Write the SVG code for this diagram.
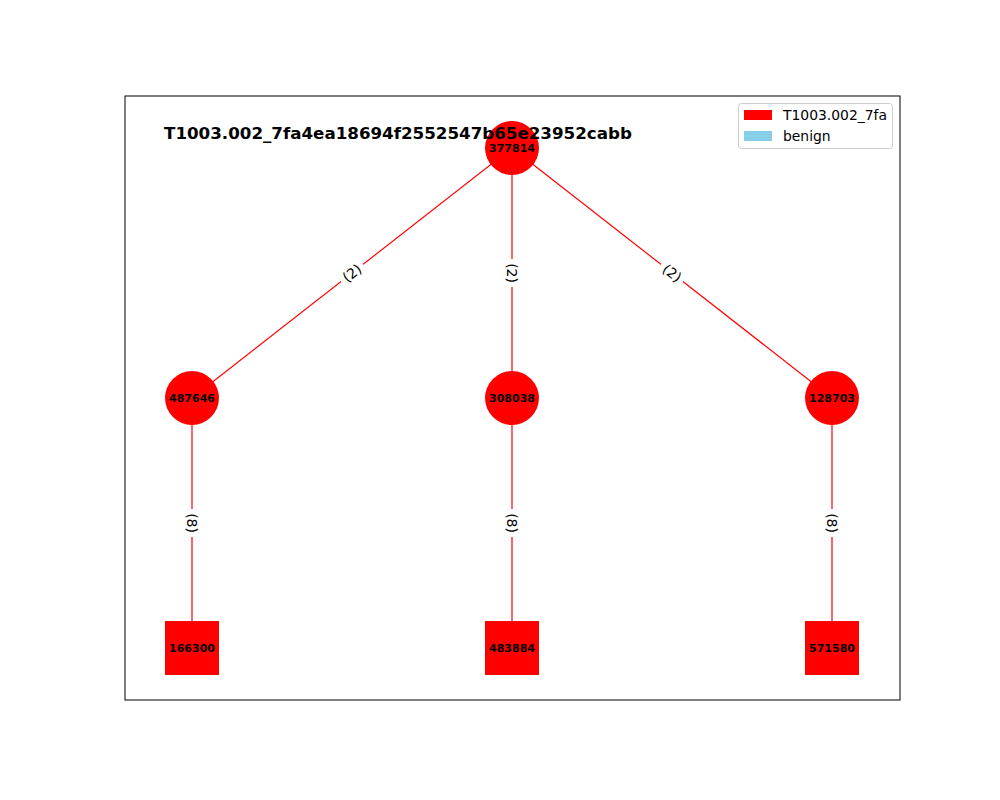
<svg xmlns="http://www.w3.org/2000/svg" width="1000" height="800" viewBox="0 0 1000 800">
<style>
.edge{stroke:#ff0000;stroke-width:1.2;fill:none}
.node{fill:#ff0000}
.nl{font-family:"DejaVu Sans",sans-serif;font-weight:bold;font-size:11px;text-anchor:middle;dominant-baseline:central;fill:#000}
.el{font-family:"DejaVu Sans",sans-serif;font-size:13.9px;text-anchor:middle;dominant-baseline:central;fill:#000}
.lbg{fill:#fff}
.lg{font-family:"DejaVu Sans",sans-serif;font-size:13.9px;fill:#000}
</style>
<rect x="0" y="0" width="1000" height="800" fill="#fff"/>
<rect x="125" y="96" width="775" height="604" fill="none" stroke="#000" stroke-width="1"/>
<g id="connectors">
<line class="edge" x1="512" y1="148" x2="192" y2="398"/>
<line class="edge" x1="512" y1="148" x2="512" y2="398"/>
<line class="edge" x1="512" y1="148" x2="832" y2="398"/>
<line class="edge" x1="192" y1="398" x2="192" y2="648"/>
<line class="edge" x1="512" y1="398" x2="512" y2="648"/>
<line class="edge" x1="832" y1="398" x2="832" y2="648"/>
<g transform="translate(352,273) rotate(-38)"><rect class="lbg" x="-14" y="-9" width="28" height="18" rx="4"/><text class="el" x="0" y="0">(2)</text></g>
<g transform="translate(512,273) rotate(90)"><rect class="lbg" x="-14" y="-9" width="28" height="18" rx="4"/><text class="el" x="0" y="0">(2)</text></g>
<g transform="translate(672,273) rotate(38)"><rect class="lbg" x="-14" y="-9" width="28" height="18" rx="4"/><text class="el" x="0" y="0">(2)</text></g>
<g transform="translate(192,523) rotate(90)"><rect class="lbg" x="-14" y="-9" width="28" height="18" rx="4"/><text class="el" x="0" y="0">(8)</text></g>
<g transform="translate(512,523) rotate(90)"><rect class="lbg" x="-14" y="-9" width="28" height="18" rx="4"/><text class="el" x="0" y="0">(8)</text></g>
<g transform="translate(832,523) rotate(90)"><rect class="lbg" x="-14" y="-9" width="28" height="18" rx="4"/><text class="el" x="0" y="0">(8)</text></g>
</g>
<g id="n377814"><circle class="node" cx="512" cy="148" r="27"/><text class="nl" x="512" y="148">377814</text></g>
<g id="n487646"><circle class="node" cx="192" cy="398" r="27"/><text class="nl" x="192" y="398">487646</text></g>
<g id="n308038"><circle class="node" cx="512" cy="398" r="27"/><text class="nl" x="512" y="398">308038</text></g>
<g id="n128703"><circle class="node" cx="832" cy="398" r="27"/><text class="nl" x="832" y="398">128703</text></g>
<g id="n166300"><rect class="node" x="165" y="621" width="54" height="54"/><text class="nl" x="192" y="648">166300</text></g>
<g id="n483884"><rect class="node" x="485" y="621" width="54" height="54"/><text class="nl" x="512" y="648">483884</text></g>
<g id="n571580"><rect class="node" x="805" y="621" width="54" height="54"/><text class="nl" x="832" y="648">571580</text></g>
<text x="164" y="138.5" font-family="DejaVu Sans, sans-serif" font-weight="bold" font-size="16.7px" fill="#000">T1003.002_7fa4ea18694f2552547b65e23952cabb</text>
<g id="legend">
<rect x="738.5" y="103.5" width="154" height="45" rx="3" fill="#fff" fill-opacity="0.8" stroke="#cccccc" stroke-width="1"/>
<rect x="744" y="110" width="28" height="10" fill="#ff0000"/>
<rect x="744" y="131" width="28" height="10" fill="#87ceeb"/>
<text class="lg" x="783" y="120">T1003.002_7fa</text>
<text class="lg" x="783" y="141">benign</text>
</g>
</svg>
